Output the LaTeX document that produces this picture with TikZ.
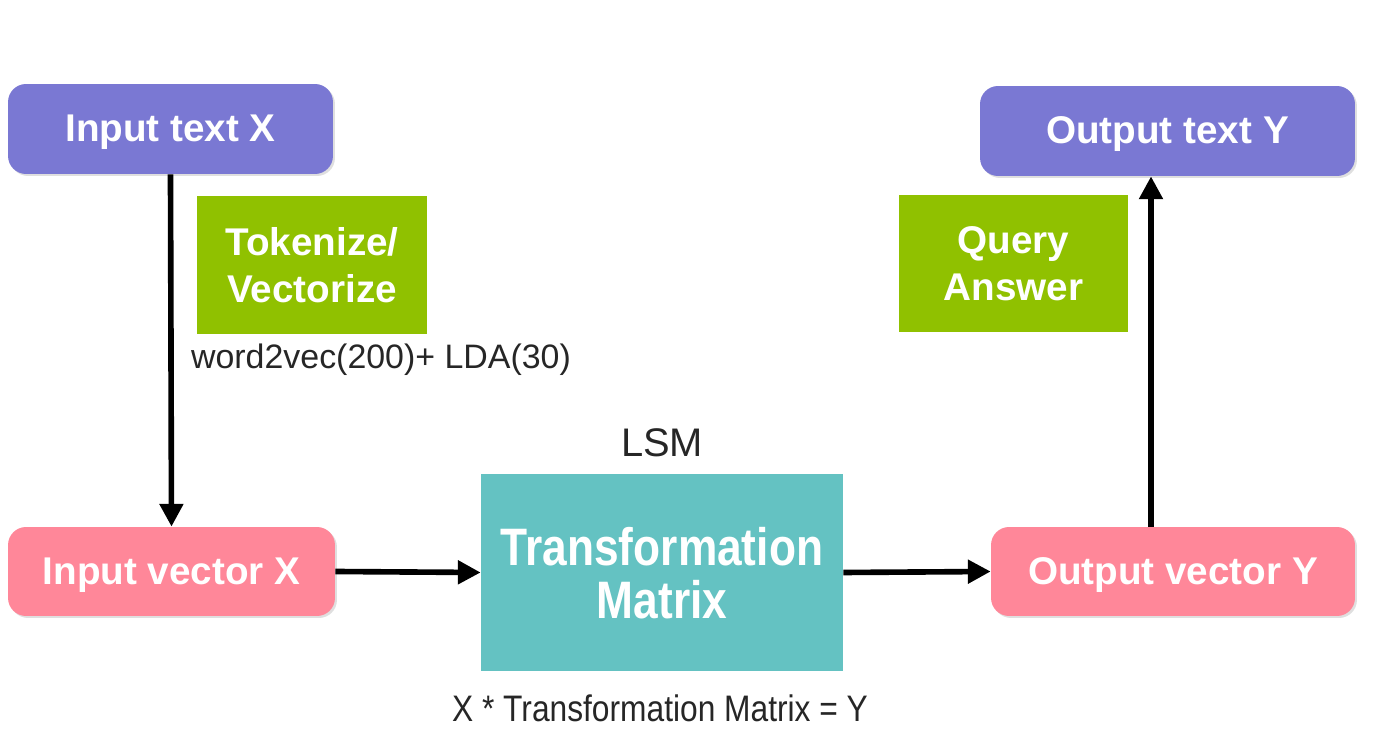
\documentclass[tikz,border=0pt]{standalone}
\usepackage{fontspec}
\setmainfont{Liberation Sans}
\usepackage{graphicx}
\usetikzlibrary{arrows.meta,shadows}
\definecolor{lilac}{RGB}{122,120,211}
\definecolor{leaf}{RGB}{144,193,0}
\definecolor{teal2}{RGB}{100,194,194}
\definecolor{rose}{RGB}{255,135,153}
\newcommand{\boxfont}{\fontsize{22}{26.5}\selectfont\bfseries}

\begin{document}
\begin{tikzpicture}[
		x=0.02cm, y=-0.02cm,
		textbox/.style={rectangle,rounded corners=0.36cm,fill=lilac,text=white,
		inner sep=0pt,minimum height=1.8cm,font=\boxfont,text depth=0.08em,
		drop shadow={opacity=0.25,shadow xshift=0.4mm,shadow yshift=-0.4mm}},
		vecbox/.style={textbox,fill=rose},
		proc/.style={rectangle,fill=leaf,text=white,align=center,
		inner sep=0pt,font=\boxfont},
		flow/.style={-{Triangle[length=13pt,width=13pt]},draw=black,line width=3.2pt}
		]
		\useasboundingbox (0,0) rectangle (1390,742);
		\node[textbox, minimum width=6.5cm] (itext) at (170.5,129) {Input text X};
		\node[textbox, minimum width=7.5cm] (otext) at (1167.5,131) {Output text Y};
		\node[proc, minimum width=4.6cm, minimum height=2.76cm] (tok) at (312,265)
			{Tokenize/\\Vectorize};
		\node[proc, minimum width=4.58cm, minimum height=2.74cm] (qa) at (1013.5,263.5)
			{Query\\Answer};
		\node[vecbox, minimum width=6.54cm, minimum height=1.78cm] (ivec) at (171.5,571.5)
			{Input vector X};
		\node[vecbox, minimum width=7.28cm, minimum height=1.78cm] (ovec) at (1173,571.5)
			{Output vector Y};
		\node[rectangle, fill=teal2, text=white, inner sep=0pt,
			minimum width=7.24cm, minimum height=3.94cm] (tm) at (662,572.5)
			{\fontsize{30}{28}\selectfont\bfseries\raisebox{-10.5pt}[0pt][0pt]{\scalebox{0.84}[1]{%
			\begin{tabular}{@{}c@{}}Transformation\\Matrix\end{tabular}}}};
		% plain labels
		\node[font=\fontsize{19.3}{23}\selectfont, text=black!85] (emb) at (381,360)
			{word2vec(200)+ LDA(30)};
		\node[font=\fontsize{22.7}{27}\selectfont, text=black!85] (lsm) at (662,443) {LSM};
		\node[font=\fontsize{21}{25}\selectfont, text=black!85] (eqn) at (660,708)
			{\scalebox{0.86}[1]{X * Transformation Matrix = Y}};
		% arrows
		\coordinate (up) at (1151,0);
		\draw[flow] (itext.south) -- (ivec.north);
		\draw[flow] (ivec.east) -- (tm.west);
		\draw[flow] (tm.east) -- (ovec.west);
		\draw[flow] (ovec.north -| up) -- (otext.south -| up);
	\end{tikzpicture}
\end{document}
